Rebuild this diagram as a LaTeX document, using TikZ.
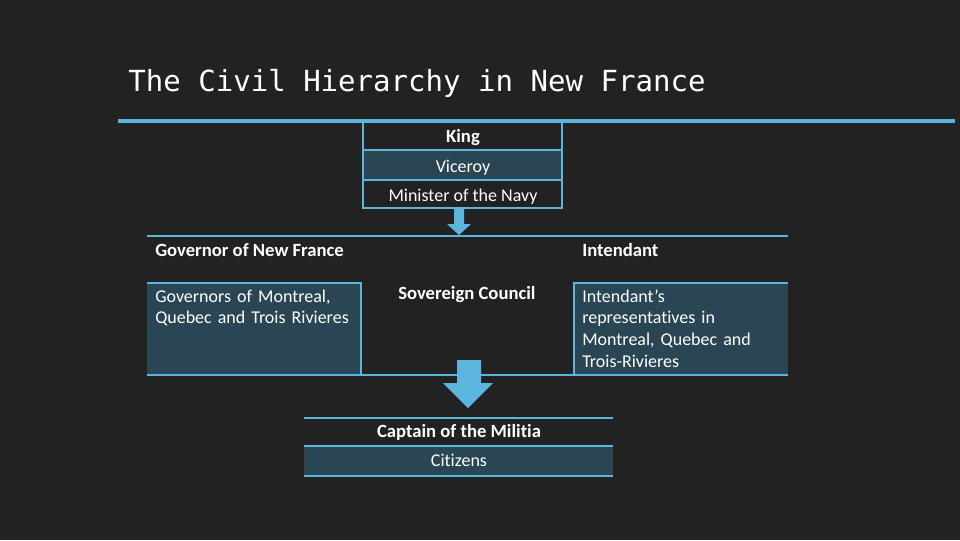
\documentclass[tikz,border=0pt]{standalone}
\usepackage{fontspec}
\setmainfont{Carlito}[Ligatures=NoCommon]
\newfontfamily\titlefont{DejaVu Sans Mono}
\usetikzlibrary{positioning}
\definecolor{board}{HTML}{222222}
\definecolor{lineblue}{HTML}{5BB5DD}
\definecolor{bandfill}{HTML}{2A4654}

\begin{document}
\begin{tikzpicture}[x=0.75pt,y=-0.75pt,
  rule/.style={draw=lineblue, line width=1.6pt},
  band/.style={fill=bandfill},
  lbl/.style={text=white, inner sep=0pt, font=\fontsize{13.5}{16.3}\selectfont},
  hdr/.style={lbl, font=\fontsize{14}{16.3}\selectfont\bfseries}]
\useasboundingbox (0,0) rectangle (960,540);
\fill[board] (0,0) rectangle (960,540);

% title
\node[lbl, anchor=base west, font=\titlefont\fontsize{21.8}{24}\selectfont] (title) at (128,91) {The Civil Hierarchy in New France};
\draw[lineblue, line width=2.4pt] (118,121) -- (955,121);

% top of the chain
\fill[band] (363,150) rectangle (562,180);
\draw[rule] (363,121) rectangle (562,208);
\foreach \y in {150,180} \draw[rule] (363,\y) -- (562,\y);
\node[hdr, anchor=base] (king) at (463,142) {King};
\node[lbl, anchor=base] (viceroy) at (463,172) {Viceroy};
\node[lbl, anchor=base] (minister) at (463,201) {Minister of the Navy};
\fill[lineblue] (454,208) -- (464,208) -- (464,224) -- (471,224) -- (459,235) -- (447,224) -- (454,224) -- cycle;

% colony level
\draw[rule] (147,236) -- (788,236);
\node[hdr, anchor=base west] (governor) at (155,256) {Governor of New France};
\node[hdr, anchor=base west] (intendant) at (582,256) {Intendant};
\fill[band] (147,283) rectangle (361,375);
\fill[band] (574,283) rectangle (788,375);
\draw[rule] (147,283) -- (361,283) -- (361,375);
\draw[rule] (788,283) -- (574,283) -- (574,375);
\draw[rule] (147,375) -- (788,375);
\node[lbl, anchor=base west, text width=200pt, align=left] (governors) at (155,302) {Governors of Montreal,\\Quebec and Trois Rivieres};
\node[hdr, anchor=base west] (council) at (398,299) {Sovereign Council};
\node[lbl, anchor=base west, text width=200pt, align=left] (reps) at (582,302) {Intendant’s\\representatives in\\Montreal, Quebec and\\Trois-Rivieres};
\fill[lineblue] (457,360) -- (481,360) -- (481,383) -- (493,383) -- (468,408) -- (443,383) -- (457,383) -- cycle;

% local level
\fill[band] (304,446) rectangle (613,476);
\foreach \y in {418,446,476} \draw[rule] (304,\y) -- (613,\y);
\node[hdr, anchor=base] (captain) at (459,437) {Captain of the Militia};
\node[lbl, anchor=base] (citizens) at (459,466) {Citizens};
\end{tikzpicture}
\end{document}
